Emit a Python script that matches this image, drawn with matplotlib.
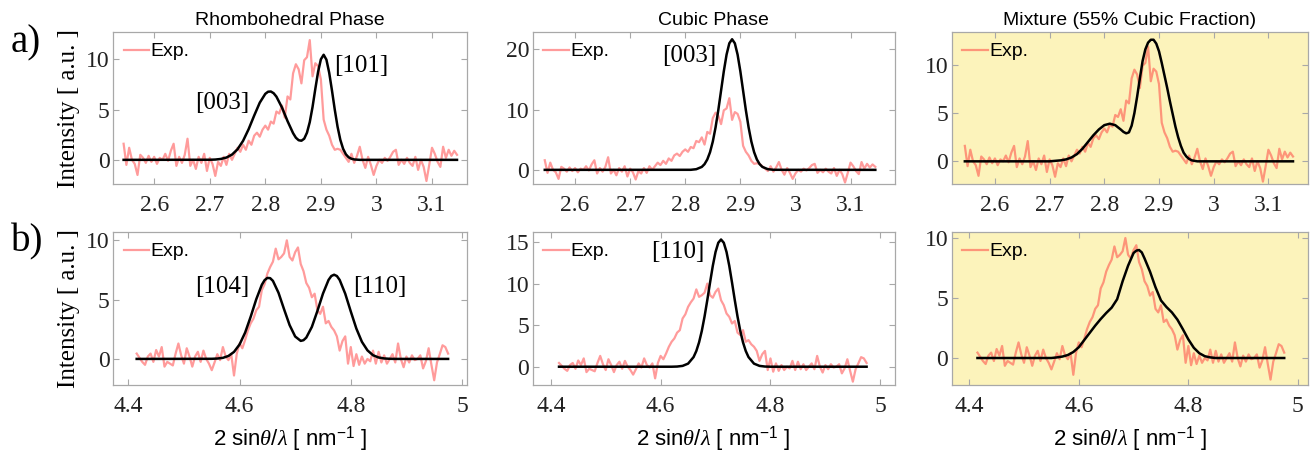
import numpy as np
import matplotlib
matplotlib.use('Agg')
import matplotlib.pyplot as plt

plt.rcParams['font.family'] = ['Liberation Serif', 'DejaVu Serif']
plt.rcParams['mathtext.fontset'] = 'custom'
plt.rcParams['mathtext.rm'] = 'Liberation Sans'
plt.rcParams['mathtext.it'] = 'Liberation Serif:italic'

# experimental patterns (same data in the three panels of a row)
exp_a = [1.6, -0.5, 1.2, 0.0, -0.4, -1.5, 0.5, 0.2, -0.3, 0.4,
         -0.2, 0.3, -0.4, 0.2, 0.0, 0.6, -0.1, 0.9, 1.6, -0.6,
         0.3, -0.3, 0.5, 2.1, -0.6, 0.0, -0.9, 0.3, -0.3, 0.6,
         -1.1, 0.2, -0.4, -1.6, -0.2, -0.6, 0.3, -0.5, 0.6, 0.0,
         0.6, 1.2, 0.8, 1.5, 1.0, 1.9, 1.5, 2.4, 2.7, 2.3,
         3.0, 3.4, 3.0, 3.8, 3.6, 4.8, 4.6, 5.4, 4.2,
         6.3, 6.0, 8.6, 9.5, 9.0, 7.6, 9.9, 10.2, 11.9, 8.3,
         9.6, 9.3, 8.0, 4.0, 3.0, 2.4, 1.5, 1.0, 1.1, 1.0,
         0.6, 0.2,
         -0.2, 0.6, -0.3, 0.4, 1.3, 0.0, -0.8, 0.3, -0.5, -1.5,
         -0.6, 0.0, -0.3, 0.2, -0.1, 0.3, 0.8, 1.0, -0.5, 0.0,
         -0.4, 0.2, -0.3, -0.6, 0.3, -1.0, 0.0, -0.7, -2.1, -0.5,
         1.2, 0.6, -0.2, -0.7, 1.3, 0.2, 1.0, 0.4, 0.9, 0.5]
exp_b = [0.45, 0.1, -0.25, -0.5, 0.2, 0.45, -0.25, 0.75, 0.2, 1.0,
         -0.65, -0.25, -0.4, -0.55, 0.45, 1.3, 0.3, -0.4, 0.9, 0.2,
         -0.65, 0.2, 0.6, -0.25, 0.7, 0.0, -0.4, -0.95, -0.3, 0.4,
         -0.1, 1.0, 0.2, -0.1, 0.4, -1.4, 0.45, 1.3, 0.9, 1.6,
         2.4, 3.0, 3.4, 4.1, 4.4, 5.8, 6.3, 7.2, 7.75, 8.2,
         9.3, 8.4, 8.6, 8.9, 10.0, 8.6, 8.3, 9.0, 9.4, 8.0,
         7.4, 6.4, 6.0, 5.2, 5.5, 4.1, 3.8, 4.4, 3.0, 3.2,
         2.7, 2.4, 1.9, 0.7, 1.5, 1.9, -0.4, 1.0, -0.6, 0.4,
         -0.5, 0.2, -0.4, 0.0, -0.2, 0.7, -0.4, 0.6, -0.3, 0.3,
         -0.4, 0.0, 0.4, -0.3, 1.3, 0.0, -0.7, 0.2, -0.3, 0.3,
         -0.1, 0.0, 0.3, -0.8, -0.2, 0.9, -0.5, -1.8, -0.3, 0.4,
         1.15, 1.0, 0.45]
x_exp_a = np.linspace(2.545, 3.145, len(exp_a))
x_exp_b = np.linspace(4.415, 4.975, len(exp_b))

# fitted curves
fit_a1_x = [2.545, 2.70, 2.71, 2.72, 2.73, 2.74, 2.75, 2.76, 2.77, 2.78, 2.79, 2.80, 2.805,
            2.81, 2.815, 2.82, 2.83, 2.84, 2.85, 2.855, 2.86, 2.865, 2.87, 2.875, 2.88, 2.885,
            2.89, 2.895, 2.90, 2.905, 2.91, 2.915, 2.92, 2.925, 2.93, 2.935, 2.94, 2.945,
            2.95, 2.955, 2.96, 2.97, 3.145]
fit_a1_y = [0, 0.01, 0.03, 0.09, 0.23, 0.52, 1.05, 1.89, 3.05, 4.40, 5.68, 6.56, 6.77,
            6.79, 6.62, 6.28, 5.20, 3.85, 2.65, 2.2, 1.95, 1.9, 2.1, 2.7, 3.75, 5.25,
            7.05, 8.75, 9.99, 10.44, 9.95, 8.65, 6.88, 4.99, 3.30, 1.99, 1.10, 0.55,
            0.25, 0.11, 0.04, 0.0, 0]
fit_a2_x = [2.545, 2.81, 2.82, 2.83, 2.835, 2.84, 2.845, 2.85, 2.855, 2.86, 2.865, 2.87,
            2.875, 2.88, 2.885, 2.89, 2.895, 2.90, 2.905, 2.91, 2.915, 2.92, 2.925, 2.93,
            2.935, 2.94, 2.95, 2.96, 3.145]
fit_a2_y = [0, 0.01, 0.11, 0.49, 0.95, 1.73, 2.94, 4.70, 7.05, 9.93, 13.16, 16.38,
            19.15, 21.03, 21.7, 21.03, 19.15, 16.38, 13.16, 9.93, 7.05, 4.70, 2.94, 1.73,
            0.95, 0.49, 0.11, 0.01, 0]
fit_a3_x = [2.545, 2.70, 2.72, 2.73, 2.74, 2.75, 2.76, 2.77, 2.78, 2.79, 2.80, 2.81, 2.82,
            2.83, 2.835, 2.84, 2.845, 2.85, 2.855, 2.86, 2.865, 2.87, 2.875, 2.88, 2.885,
            2.89, 2.895, 2.90, 2.905, 2.91, 2.915, 2.92, 2.925, 2.93, 2.935, 2.94, 2.945,
            2.95, 2.955, 2.96, 2.97, 3.145]
fit_a3_y = [0, 0.0, 0.1, 0.2, 0.4, 0.75, 1.3, 2.0, 2.7, 3.3, 3.75, 3.9, 3.75,
            3.3, 3.05, 2.9, 3.0, 3.7, 5.0, 6.7, 8.6, 10.4, 11.6, 12.3, 12.6,
            12.6, 12.2, 11.4, 10.2, 8.9, 7.6, 6.2, 4.9, 3.6, 2.5, 1.6, 0.9,
            0.5, 0.25, 0.1, 0.0, 0]
fit_b1_x = [4.415, 4.55, 4.56, 4.57, 4.58, 4.59, 4.60, 4.61, 4.62, 4.63, 4.64, 4.645, 4.65,
            4.655, 4.66, 4.67, 4.68, 4.69, 4.70, 4.71, 4.715, 4.72, 4.73, 4.74, 4.75, 4.76,
            4.765, 4.77, 4.775, 4.78, 4.79, 4.80, 4.81, 4.82, 4.83, 4.84, 4.85, 4.86, 4.87,
            4.88, 4.975]
fit_b1_y = [0, 0.01, 0.03, 0.09, 0.25, 0.59, 1.22, 2.22, 3.56, 5.03, 6.25, 6.64, 6.83,
            6.81, 6.58, 5.58, 4.19, 2.85, 1.89, 1.52, 1.58, 1.80, 2.70, 4.05, 5.51, 6.66,
            6.99, 7.10, 6.99, 6.66, 5.50, 4.00, 2.56, 1.44, 0.72, 0.31, 0.12, 0.04, 0.01,
            0, 0]
fit_b2_x = [4.415, 4.62, 4.63, 4.64, 4.65, 4.66, 4.665, 4.67, 4.675, 4.68, 4.685, 4.69,
            4.695, 4.70, 4.705, 4.71, 4.715, 4.72, 4.725, 4.73, 4.735, 4.74, 4.745, 4.75,
            4.755, 4.76, 4.77, 4.78, 4.79, 4.80, 4.975]
fit_b2_y = [0, 0.0, 0.02, 0.10, 0.37, 1.16, 1.89, 2.93, 4.31, 6.04, 8.02, 10.12,
            12.13, 13.80, 14.91, 15.3, 14.91, 13.80, 12.13, 10.12, 8.02, 6.04, 4.31, 2.93,
            1.89, 1.16, 0.37, 0.10, 0.02, 0.0, 0]
fit_b3_x = [4.415, 4.55, 4.56, 4.57, 4.58, 4.59, 4.60, 4.61, 4.62, 4.63, 4.64, 4.65, 4.66,
            4.67, 4.68, 4.69, 4.70, 4.705, 4.71, 4.715, 4.72, 4.73, 4.74, 4.75, 4.76, 4.77,
            4.78, 4.79, 4.80, 4.81, 4.82, 4.83, 4.84, 4.85, 4.975]
fit_b3_y = [0, 0.0, 0.05, 0.12, 0.25, 0.5, 0.9, 1.5, 2.1, 2.7, 3.25, 3.75, 4.2,
            4.9, 6.4, 7.7, 8.75, 8.95, 9.0, 8.8, 8.3, 7.2, 5.9, 4.8, 4.25, 3.8,
            3.2, 2.4, 1.55, 0.85, 0.4, 0.15, 0.05, 0.0, 0]

titles = ['Rhombohedral Phase', 'Cubic Phase', 'Mixture (55% Cubic Fraction)']
xticks_a = [2.6, 2.7, 2.8, 2.9, 3.0, 3.1]
xticklabels_a = ['2.6', '2.7', '2.8', '2.9', '3', '3.1']
xticks_b = [4.4, 4.6, 4.8, 5.0]
xticklabels_b = ['4.4', '4.6', '4.8', '5']
yticks_a = [[0, 5, 10], [0, 10, 20], [0, 5, 10]]
yticks_b = [[0, 5, 10], [0, 5, 10, 15], [0, 5, 10]]
xlims_a = [(2.526, 3.163), (2.523, 3.18), (2.521, 3.172)]
xlims_b = [(4.3725, 5.009), (4.367, 5.026), (4.368, 5.018)]
ylims_a = [(-2.4, 12.7), (-2.35, 22.9), (-2.35, 13.4)]
ylims_b = [(-2.2, 10.7), (-2.2, 16.2), (-2.25, 10.5)]

# (row, col, label, x, y)
peak_labels = [(0, 0, '[003]', 2.722, 5.6), (0, 0, '[101]', 2.973, 9.3),
               (0, 1, '[003]', 2.807, 18.9),
               (1, 0, '[104]', 4.568, 6.1), (1, 0, '[110]', 4.853, 6.1),
               (1, 1, '[110]', 4.632, 13.8)]

fits = [[(fit_a1_x, fit_a1_y), (fit_a2_x, fit_a2_y), (fit_a3_x, fit_a3_y)],
        [(fit_b1_x, fit_b1_y), (fit_b2_x, fit_b2_y), (fit_b3_x, fit_b3_y)]]

col_left = [0.0863, 0.4066, 0.7265]
col_width = [0.2702, 0.2763, 0.2718]
row_bottom = [0.5938, 0.1501]
row_height = [0.3355, 0.3377]

exp_color = '#ff3838'
frame_color = '#a8a8a8'
mix_bg = '#fcf3bb'


def style_axes(ax):
    for s in ax.spines.values():
        s.set_color(frame_color)
        s.set_linewidth(0.9)
    ax.tick_params(direction='in', top=True, right=True, length=4, width=0.8,
                   color=frame_color, labelcolor='#222222', labelsize=17)
    ax.tick_params(axis='y', pad=2.5)
    ax.tick_params(axis='x', pad=8)


fig = plt.figure(figsize=(13.1, 4.53), dpi=100)

for row in range(2):
    x_exp = x_exp_a if row == 0 else x_exp_b
    y_exp = exp_a if row == 0 else exp_b
    for col in range(3):
        ax = fig.add_axes([col_left[col], row_bottom[row], col_width[col], row_height[row]])
        if col == 2:
            ax.set_facecolor(mix_bg)
        line, = ax.plot(x_exp, y_exp, color=exp_color, alpha=0.5, lw=1.6)
        fx, fy = fits[row][col]
        ax.plot(fx, fy, color='black', lw=1.8)

        if row == 0:
            ax.set_xticks(xticks_a)
            ax.set_xticklabels(xticklabels_a)
            ax.set_xlim(*xlims_a[col])
            ax.set_ylim(*ylims_a[col])
            ax.set_yticks(yticks_a[col])
            ax.set_title(titles[col], fontfamily='Liberation Sans', fontsize=14, pad=5)
        else:
            ax.set_xticks(xticks_b)
            ax.set_xticklabels(xticklabels_b)
            ax.set_xlim(*xlims_b[col])
            ax.set_ylim(*ylims_b[col])
            ax.set_yticks(yticks_b[col])
            ax.set_xlabel(r'2 sin$\theta$/$\lambda$ [ nm$^{-1}$ ]', fontfamily='Liberation Sans',
                          fontsize=16, labelpad=5)
        if col == 0:
            ax.set_ylabel('Intensity [ a.u. ]', fontsize=18)
            ax.yaxis.set_label_coords(-0.093, 0.5)

        style_axes(ax)
        ax.legend([line], ['Exp.'], loc='upper left', frameon=False, handlelength=1.3,
                  handletextpad=0.08, borderaxespad=0.15,
                  prop={'family': 'Liberation Sans', 'size': 14})

        for r, c, txt, px, py in peak_labels:
            if r == row and c == col:
                ax.text(px, py, txt, ha='center', va='center', fontsize=18)

fig.text(26 / 1310, 1 - 43 / 453, 'a)', fontsize=28, ha='center', va='center')
fig.text(27 / 1310, 1 - 242 / 453, 'b)', fontsize=28, ha='center', va='center')

fig.savefig('out.png', dpi=100)
